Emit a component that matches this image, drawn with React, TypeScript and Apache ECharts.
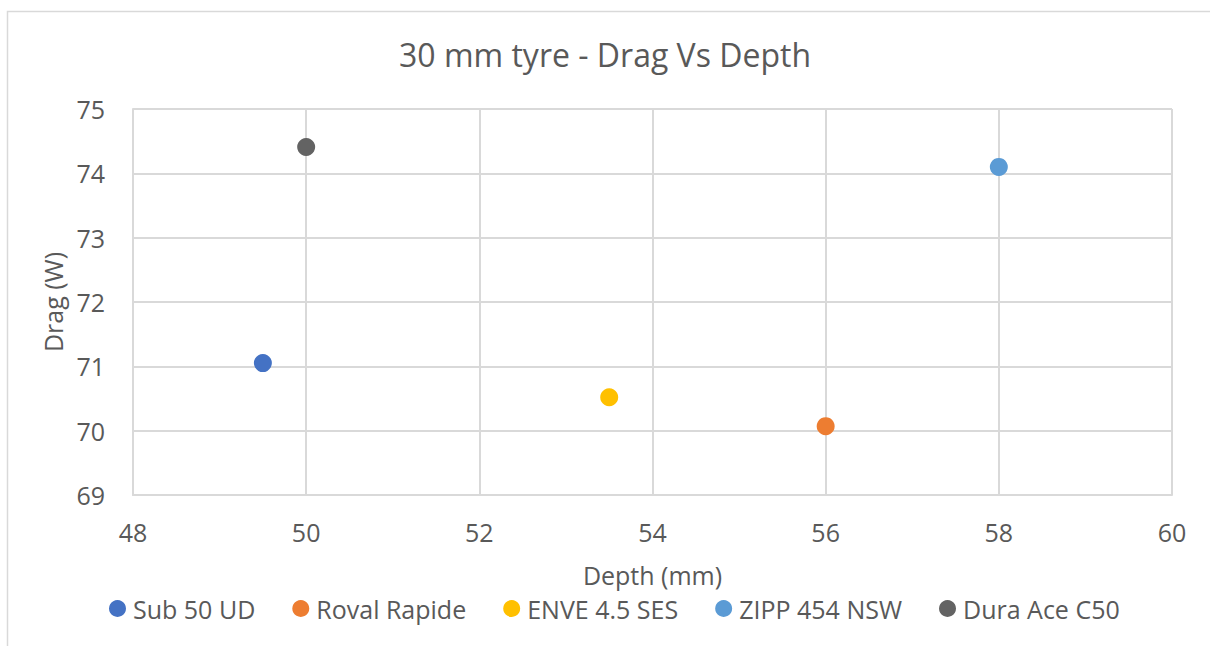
import React, { useEffect, useRef } from "react";
import * as echarts from "echarts";

const seriesNames = ["Sub 50 UD", "Roval Rapide", "ENVE 4.5 SES", "ZIPP 454 NSW", "Dura Ace C50"];
const depths = [49.5, 56, 53.5, 58, 50];
const drags = [71.05, 70.07, 70.52, 74.1, 74.41];
const colors = ["#4472C4", "#ED7D31", "#FFC000", "#5B9BD5", "#636363"];

const FONT = "'Open Sans', sans-serif";
const TXT = "#595959";

export default function App() {
  const ref = useRef<HTMLDivElement>(null);
  useEffect(() => {
    document.body.style.margin = "0";
    const chart = echarts.init(ref.current!, undefined, { renderer: "svg" });
    chart.setOption({
      animation: false,
      backgroundColor: "#ffffff",
      textStyle: { fontFamily: FONT, color: TXT },
      title: {
        text: "30 mm tyre - Drag Vs Depth",
        left: "center",
        top: 33,
        textStyle: { fontFamily: FONT, fontSize: 32, fontWeight: "normal", color: TXT },
      },
      graphic: [
        {
          type: "rect",
          shape: { x: 7.5, y: 11.5, width: 1220, height: 660 },
          style: { fill: "none", stroke: "#d9d9d9", lineWidth: 1.5 },
          silent: true,
        },
      ],
      legend: {
        top: 591,
        left: 104,
        icon: "circle",
        itemWidth: 17,
        itemHeight: 17,
        itemGap: 37,
        textStyle: { fontFamily: FONT, fontSize: 25, color: TXT, padding: [0, 0, 0, 2] },
        data: seriesNames,
      },
      grid: { left: 133, right: 38, top: 109, bottom: 151 },
      xAxis: {
        type: "value",
        min: 48,
        max: 60,
        interval: 2,
        name: "Depth (mm)",
        nameLocation: "middle",
        nameGap: 67,
        nameTextStyle: { fontFamily: FONT, fontSize: 25, color: TXT },
        axisLine: { show: true, lineStyle: { color: "#d9d9d9", width: 2 } },
        axisTick: { show: false },
        axisLabel: { fontFamily: FONT, fontSize: 25, color: TXT, margin: 24 },
        splitLine: { show: true, lineStyle: { color: "#d9d9d9", width: 2 } },
      },
      yAxis: {
        type: "value",
        min: 69,
        max: 75,
        interval: 1,
        name: "Drag (W)",
        nameLocation: "middle",
        nameGap: 68,
        nameTextStyle: { fontFamily: FONT, fontSize: 25, color: TXT },
        axisLine: { show: true, lineStyle: { color: "#d9d9d9", width: 2 } },
        axisTick: { show: false },
        axisLabel: { fontFamily: FONT, fontSize: 25, color: TXT, margin: 28 },
        splitLine: { show: true, lineStyle: { color: "#d9d9d9", width: 2 } },
      },
      series: seriesNames.map((name, i) => ({
        name,
        type: "scatter",
        symbol: "circle",
        symbolSize: 18,
        itemStyle: { color: colors[i], opacity: 1 },
        data: [[depths[i], drags[i]]],
      })),
    });
    return () => chart.dispose();
  }, []);
  return <div ref={ref} style={{ width: 1210, height: 646 }} />;
}
